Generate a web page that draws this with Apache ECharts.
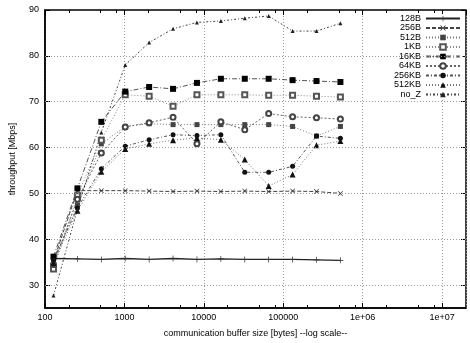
<!DOCTYPE html>
<html>
<head>
<meta charset="utf-8">
<script src="https://cdn.jsdelivr.net/npm/echarts@6/dist/echarts.min.js"></script>
<style>
  html, body { margin: 0; padding: 0; background: #fff; }
  #chart { width: 470px; height: 343px; }
</style>
</head>
<body>
<div id="chart"></div>
<script>
// Communication buffer sizes in bytes (x axis, log scale)
const bufferSizes = [128, 256, 512, 1024, 2048, 4096, 8192, 16384, 32768, 65536, 131072, 262144, 524288];

// Throughput in Mbps for each message size
const t128B  = [35.8, 35.7, 35.6, 35.8, 35.6, 35.8, 35.6, 35.7, 35.6, 35.6, 35.6, 35.5, 35.4];
const t256B  = [35.3, 50.6, 50.6, 50.6, 50.5, 50.4, 50.5, 50.4, 50.5, 50.4, 50.5, 50.4, 50.0];
const t512B  = [35.0, 47.5, 60.8, 64.6, 65.2, 65.0, 65.0, 65.0, 65.0, 65.0, 64.6, 62.5, 64.6];
const t1KB   = [33.5, 49.5, 61.6, 71.5, 71.2, 69.0, 71.5, 71.5, 71.5, 71.4, 71.4, 71.2, 71.0];
const t16KB  = [36.2, 51.1, 65.6, 72.2, 73.2, 72.8, 74.1, 75.0, 75.0, 75.0, 74.7, 74.5, 74.3];
const t64KB  = [34.5, 48.7, 58.8, 64.5, 65.4, 66.6, 60.8, 65.6, 63.9, 67.4, 66.7, 66.5, 66.2];
const t256KB = [35.5, 46.8, 55.4, 60.3, 61.7, 62.8, 62.6, 62.8, 54.6, 54.6, 55.9, 62.5, 62.0];
const t512KB = [34.8, 46.2, 54.7, 59.7, 60.8, 61.6, 62.1, 61.7, 57.4, 51.6, 54.1, 60.5, 61.4];
const tNoZ   = [27.7, 46.5, 63.3, 78.0, 82.9, 85.9, 87.3, 87.6, 88.2, 88.7, 85.4, 85.4, 87.1];

// Axis tick labels
const xTickLabels = { 100: '100', 1000: '1000', 10000: '10000', 100000: '100000', 1000000: '1e+06', 10000000: '1e+07' };
const xMinorTicks = [200, 500, 800, 2000, 5000, 8000, 20000, 50000, 80000, 200000, 500000, 800000,
                     2000000, 5000000, 8000000];
const yTickValues = [30, 40, 50, 60, 70, 80, 90];

const FONT = 'Liberation Sans, Arial, sans-serif';
const plus = 'path://M0,4.4h10v1.2h-10zM4.4,0h1.2v10h-1.2z';
const cross = 'path://M0,1L1,0L10,9L9,10ZM9,0L10,1L1,10L0,9Z';

function pairs(vals) { return bufferSizes.map((b, i) => [b, vals[i]]); }

function line(name, vals, o) {
  return {
    name: name, type: 'line', data: pairs(vals),
    xAxisIndex: 0, yAxisIndex: 0,
    symbol: o.symbol, symbolSize: o.size,
    lineStyle: { color: o.lineColor, width: o.width || 1, type: o.dash },
    itemStyle: { color: o.markColor, borderColor: o.markColor, borderWidth: o.border || 0 },
    emphasis: { disabled: true },
    animation: false
  };
}

const series = [
  line('128B',  t128B,  { symbol: plus,          size: 6, lineColor: '#222', dash: 'solid', width: 1.3, markColor: '#333' }),
  line('256B',  t256B,  { symbol: cross,         size: 5, lineColor: '#444', dash: [4, 2], markColor: '#333' }),
  line('512B',  t512B,  { symbol: 'rect',        size: 5, lineColor: '#777', dash: [1, 2], markColor: '#444' }),
  line('1KB',   t1KB,   { symbol: 'emptyRect',   size: 5, lineColor: '#888', dash: [1, 2], markColor: '#555', border: 1 }),
  line('16KB',  t16KB,  { symbol: 'rect',        size: 6, lineColor: '#555', dash: [5, 2, 1, 2], markColor: '#000' }),
  line('64KB',  t64KB,  { symbol: 'emptyCircle', size: 5, lineColor: '#666', dash: [2, 2], markColor: '#444', border: 1 }),
  line('256KB', t256KB, { symbol: 'circle',      size: 5, lineColor: '#555', dash: [3, 2, 1, 2], markColor: '#111' }),
  line('512KB', t512KB, { symbol: 'triangle',    size: 6, lineColor: '#777', dash: [1, 2], markColor: '#111' }),
  line('no_Z',  tNoZ,   { symbol: 'triangle',    size: 4, lineColor: '#444', dash: [2, 2, 1, 2], markColor: '#222' })
];

const xBase = { type: 'log', logBase: 10, min: 100, max: 20000000, gridIndex: 0 };

const option = {
  backgroundColor: '#fff',
  animation: false,
  textStyle: { fontFamily: FONT },
  grid: { left: 41, top: 10, right: 4, bottom: 34, show: true, borderColor: '#000', borderWidth: 1.5, backgroundColor: 'transparent' },
  legend: {
    orient: 'vertical', right: 7, top: 14, align: 'right',
    itemWidth: 34, itemHeight: 7, itemGap: 0.5,
    backgroundColor: '#fff', padding: [0, 2, 0, 2],
    textStyle: { fontFamily: FONT, fontSize: 9, color: '#000', lineHeight: 8, padding: [0, 0, 0, 0] },
    data: series.map(s => s.name)
  },
  xAxis: [
    Object.assign({}, xBase, {
      position: 'bottom',
      name: 'communication buffer size [bytes] --log scale--',
      nameLocation: 'middle', nameGap: 21,
      nameTextStyle: { fontFamily: FONT, fontSize: 9, color: '#000' },
      axisLine: { show: true, lineStyle: { color: '#000', width: 1.5 } },
      axisTick: { show: true, inside: true, length: 5, lineStyle: { color: '#000' } },
      axisLabel: {
        margin: 5, fontFamily: FONT, fontSize: 9, color: '#000', showMaxLabel: false,
        formatter: v => xTickLabels[Math.round(v)] || ''
      },
      splitLine: { show: true, lineStyle: { color: '#999', type: [1, 2], width: 1 } }
    }),
    Object.assign({}, xBase, {
      position: 'bottom',
      axisLine: { show: false }, axisLabel: { show: false }, splitLine: { show: false },
      axisTick: { show: true, inside: true, length: 3, customValues: xMinorTicks, lineStyle: { color: '#000' } }
    }),
    Object.assign({}, xBase, {
      position: 'top',
      axisLine: { show: false }, axisLabel: { show: false }, splitLine: { show: false },
      axisTick: { show: true, inside: true, length: 5, lineStyle: { color: '#000' } }
    }),
    Object.assign({}, xBase, {
      position: 'top',
      axisLine: { show: false }, axisLabel: { show: false }, splitLine: { show: false },
      axisTick: { show: true, inside: true, length: 3, customValues: xMinorTicks, lineStyle: { color: '#000' } }
    })
  ],
  yAxis: [
    {
      type: 'value', min: 25, max: 90, position: 'left',
      name: 'throughput [Mbps]', nameLocation: 'middle', nameGap: 28, nameRotate: 90,
      nameTextStyle: { fontFamily: FONT, fontSize: 9, color: '#000' },
      axisLine: { show: true, lineStyle: { color: '#000', width: 1.5 } },
      axisTick: { show: true, inside: true, length: 5, customValues: yTickValues, lineStyle: { color: '#000' } },
      axisLabel: { margin: 6, fontFamily: FONT, fontSize: 9, color: '#000', customValues: yTickValues },
      splitLine: { show: false }
    },
    {
      type: 'value', min: 25, max: 90, position: 'right',
      axisLine: { show: false }, axisLabel: { show: false }, splitLine: { show: false },
      axisTick: { show: true, inside: true, length: 5, customValues: yTickValues, lineStyle: { color: '#000' } }
    }
  ],
  series: series.concat([{
    // horizontal grid lines at the labelled throughput values
    type: 'line', data: [], xAxisIndex: 0, yAxisIndex: 0, silent: true,
    markLine: {
      silent: true, symbol: 'none', label: { show: false }, animation: false,
      lineStyle: { color: '#999', type: [1, 2], width: 1 },
      data: yTickValues.slice(0, -1).map(v => ({ yAxis: v }))
    }
  }])
};

const chart = echarts.init(document.getElementById('chart'), null, { renderer: 'canvas' });
chart.setOption(option);
</script>
</body>
</html>
